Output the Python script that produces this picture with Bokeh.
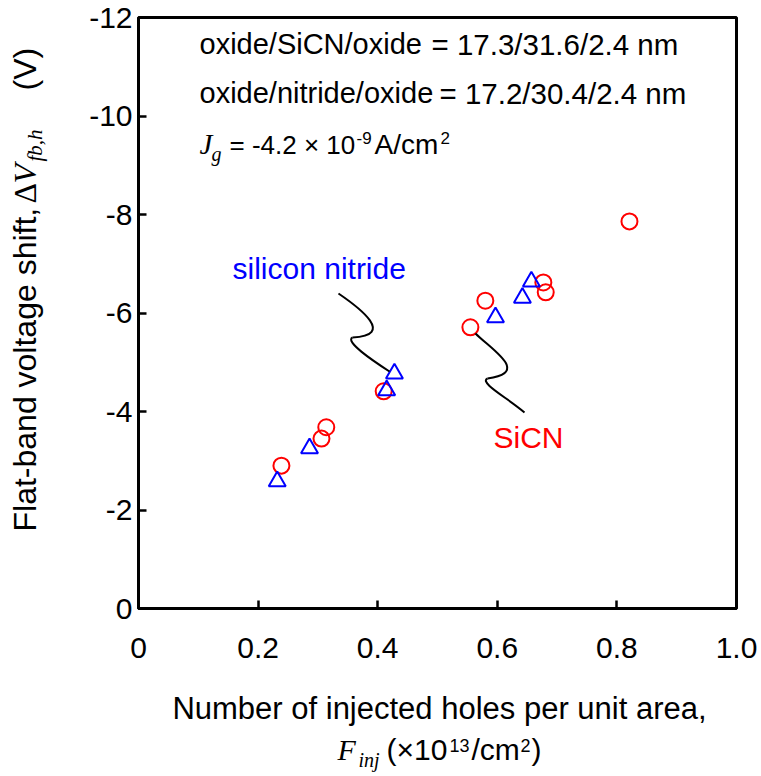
import math
from bokeh.plotting import figure
from bokeh.layouts import column, row
from bokeh.models import Range1d, FixedTicker, Label
from bokeh.core.properties import value
from bokeh.embed import file_html
from bokeh.resources import INLINE

# Measured flat-band voltage shift vs. injected hole fluence
sicn_fluence = [0.239, 0.306, 0.314, 0.410, 0.555, 0.580, 0.677, 0.681, 0.821]
sicn_shift = [-2.90, -3.45, -3.68, -4.41, -5.71, -6.25, -6.62, -6.42, -7.86]

nitride_fluence = [0.232, 0.286, 0.415, 0.428, 0.597, 0.642, 0.657]
nitride_shift = [-2.58, -3.25, -4.43, -4.77, -5.91, -6.31, -6.64]

x_ticks = [0, 0.2, 0.4, 0.6, 0.8, 1.0]
x_tick_labels = ["0", "0.2", "0.4", "0.6", "0.8", "1.0"]
y_ticks = [0, -2, -4, -6, -8, -10, -12]
y_tick_labels = ["0", "-2", "-4", "-6", "-8", "-10", "-12"]

# Wavy leader lines (cubic Bezier segments, data units)
nitride_leader = dict(
    x0=[0.3344, 0.3579], y0=[-6.396, -5.503],
    cx0=[0.3712, 0.3445], cy0=[-6.091, -5.421],
    cx1=[0.4298, 0.3913], cy1=[-5.543, -5.036],
    x1=[0.3579, 0.4197], y1=[-5.503, -4.812],
)
sicn_leader = dict(
    x0=[0.5635, 0.5836], y0=[-5.584, -4.670],
    cx0=[0.5920, 0.5686], cy0=[-5.239, -4.589],
    cx1=[0.6555, 0.6187], cy1=[-4.792, -4.264],
    x1=[0.5836, 0.6455], y1=[-4.670, -3.980],
)

# page geometry (pixels)
W, H = 761, 776
YT_W = 64          # strip holding the rotated y-axis title
XT_H = 96          # strip holding the x-axis title
MAIN_W, MAIN_H = W - YT_W, H - XT_H
FRAME_L, FRAME_R, FRAME_T, FRAME_B = 138, 736, 17, 608   # page coords

SANS = "Liberation Sans"
SERIF = "Liberation Serif"
DROP = 0.32   # anchor-to-baseline distance of Bokeh's alphabetic text, in em

p = figure(
    width=MAIN_W, height=MAIN_H,
    x_range=Range1d(0, 1.0), y_range=Range1d(0, -12),
    min_border_left=FRAME_L - YT_W, min_border_right=W - FRAME_R,
    min_border_top=FRAME_T, min_border_bottom=MAIN_H - FRAME_B,
    output_backend="svg", toolbar_location=None,
)
p.background_fill_color = "white"
p.border_fill_color = "white"
p.outline_line_color = "black"
p.outline_line_width = 3
p.grid.visible = False

p.xaxis.ticker = FixedTicker(ticks=x_ticks)
p.xaxis.major_label_overrides = dict(zip(x_ticks, x_tick_labels))
p.yaxis.ticker = FixedTicker(ticks=y_ticks)
p.yaxis.major_label_overrides = dict(zip(y_ticks, y_tick_labels))

for ax in (p.xaxis, p.yaxis):
    ax.axis_line_width = 3
    ax.axis_line_color = "black"
    ax.major_tick_in = 8
    ax.major_tick_out = 0
    ax.major_tick_line_width = 2.5
    ax.minor_tick_line_color = None
    ax.major_label_text_font = SANS
    ax.major_label_text_font_size = "30px"
    ax.major_label_text_color = "black"
p.xaxis.major_label_standoff = 29
p.yaxis.major_label_standoff = 6

# data markers
p.scatter(sicn_fluence, sicn_shift, marker="circle", size=16,
          fill_color=None, line_color="#ff0000", line_width=2)
p.scatter(nitride_fluence, nitride_shift, marker="triangle", size=17,
          fill_color=None, line_color="#0000ff", line_width=2)

p.bezier(line_color="black", line_width=2, **nitride_leader)
p.bezier(line_color="black", line_width=2, **sicn_leader)


def put(text, px, py, size, font=SANS, style="normal", color="black"):
    """Text inside the plot box; (px, py) = page pixel on the baseline."""
    ay = py - DROP * size
    p.add_layout(Label(
        x=px - FRAME_L, y=FRAME_B - ay,
        x_units="screen", y_units="screen",
        text=text, text_font=font, text_font_style=style,
        text_font_size=f"{size}px", text_color=color,
        text_align="left", text_baseline="alphabetic",
    ))


# stack descriptions
put("oxide/SiCN/oxide", 199, 53, 29)
put("= 17.3/31.6/2.4 nm", 431, 53, 29.5)
put("oxide/nitride/oxide", 199, 102, 29)
put("= 17.2/30.4/2.4 nm", 439, 102, 29.5)
put("J", 199, 153, 29, font=SERIF, style="italic")
put("g", 211, 160, 20, font=SERIF, style="italic")
put("= -4.2 \u00d7 10", 229, 153, 26)
put("-9", 356, 143, 17)
put("A/cm", 374, 153, 28)
put("2", 440, 143, 17)

# series labels
put("silicon nitride", 232, 278, 30, color="#0000ff")
put("SiCN", 493, 447, 30, color="#ff0000")


def text_strip(w, h, top=0, bottom=0):
    """Blank canvas whose data units are page pixels (y grows downward)."""
    f = figure(width=w, height=h,
               x_range=Range1d(0, w), y_range=Range1d(h - bottom, top),
               x_axis_type=None, y_axis_type=None,
               min_border_left=0, min_border_right=0,
               min_border_top=top, min_border_bottom=bottom,
               output_backend="svg", toolbar_location=None)
    f.outline_line_color = None
    f.grid.visible = False
    f.background_fill_color = "white"
    f.border_fill_color = "white"
    return f


def piece(f, text, x, y, size, font=SANS, style="normal", align="left", rotated=False):
    """(x, y) = strip pixel on the text baseline."""
    if rotated:
        ax, ay, angle = x - DROP * size, y, math.pi / 2
    else:
        ax, ay, angle = x, y - DROP * size, 0.0
    f.text(x=[ax], y=[ay], text=[text], text_font=value(font),
           text_font_style=style, text_font_size=value(f"{size}px"),
           text_color="black", text_align=align, text_baseline="alphabetic",
           angle=angle)


# x-axis title (strip starts at page y = MAIN_H)
xt = text_strip(W, XT_H)
oy = MAIN_H
piece(xt, "Number of injected holes per unit area,", 439, 718 - oy, 31, align="center")
piece(xt, "F", 337, 759 - oy, 30, font=SERIF, style="italic")
piece(xt, "inj", 358, 766 - oy, 20, font=SERIF, style="italic")
piece(xt, "(\u00d710", 386, 759 - oy, 30)
piece(xt, "13", 449, 751 - oy, 18)
piece(xt, "/cm", 471, 759 - oy, 30)
piece(xt, "2", 520, 751 - oy, 18)
piece(xt, ")", 531, 759 - oy, 30)

# y-axis title, rotated to read bottom-to-top; frame matches the plot box
yt = text_strip(YT_W, MAIN_H, top=FRAME_T, bottom=MAIN_H - FRAME_B)
piece(yt, "Flat-band voltage shift,", 35, 531, 32, rotated=True)
piece(yt, "\u0394", 35, 203, 32, font=SERIF, rotated=True)
piece(yt, "V", 35, 183, 32, font=SERIF, style="italic", rotated=True)
piece(yt, "fb,h", 41, 161, 21, font=SERIF, style="italic", rotated=True)
piece(yt, "(V)", 35, 90, 32, rotated=True)

page = column(row(yt, p, spacing=0), xt, spacing=0)
open("out.html", "w").write(file_html(page, INLINE))
